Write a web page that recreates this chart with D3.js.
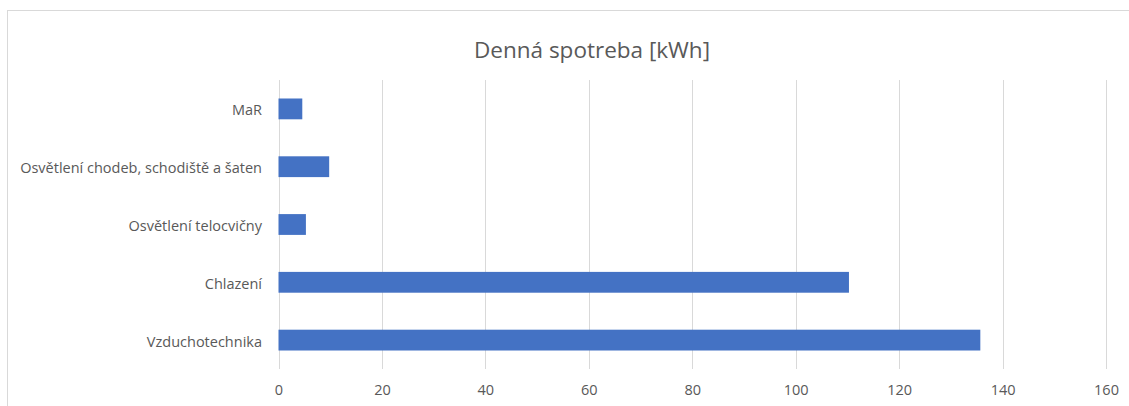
<!DOCTYPE html>
<html>
<head>
<meta charset="utf-8">
<script src="https://cdn.jsdelivr.net/npm/d3@7"></script>
<style>
  body { margin: 0; background: #fff; }
  svg text { font-family: "Open Sans", "Noto Sans", sans-serif; fill: #595959; }
</style>
</head>
<body>
<div id="d3-container"></div>
<script>
/* CONSTANTS AND GLOBALS */
const width = 1129,
  height = 406,
  margin = { top: 80, bottom: 37, left: 278.5, right: 23 };

// categories top to bottom, as in the chart
const categories = [
  "MaR",
  "Osvětlení chodeb, schodiště a šaten",
  "Osvětlení telocvičny",
  "Chlazení",
  "Vzduchotechnika"
];
const values = [4.6, 9.8, 5.3, 110.3, 135.7];
const xTicks = [0, 20, 40, 60, 80, 100, 120, 140, 160];
const title = "Denná spotreba [kWh]";

const data = categories.map((c, i) => ({ name: c, value: values[i] }));

const svg = d3
  .select("#d3-container")
  .append("svg")
  .attr("width", width)
  .attr("height", height);

// chart frame
svg
  .append("rect")
  .attr("x", 7.5)
  .attr("y", 10.5)
  .attr("width", 1176)
  .attr("height", 420)
  .attr("fill", "none")
  .attr("stroke", "#d9d9d9");

const xScale = d3
  .scaleLinear()
  .domain([0, 160])
  .range([margin.left, width - margin.right]);

const yScale = d3
  .scaleBand()
  .domain(categories)
  .range([margin.top, height - margin.bottom])
  .paddingInner(0.64)
  .paddingOuter(0.32);

// gridlines
svg
  .append("g")
  .selectAll("line")
  .data(xTicks)
  .join("line")
  .attr("x1", d => Math.round(xScale(d)) + 0.5)
  .attr("x2", d => Math.round(xScale(d)) + 0.5)
  .attr("y1", margin.top)
  .attr("y2", height - margin.bottom)
  .attr("stroke", "#d9d9d9")
  .attr("stroke-width", 1);

// x axis labels
const xAxis = d3.axisBottom(xScale).tickValues(xTicks).tickSize(0).tickPadding(16);
svg
  .append("g")
  .attr("class", "axis x-axis")
  .attr("transform", `translate(0, ${height - margin.bottom})`)
  .call(xAxis)
  .call(g => g.select(".domain").remove())
  .selectAll("text")
  .attr("font-family", "'Open Sans', sans-serif")
  .attr("font-size", 14.5)
  .attr("fill", "#595959");

// y axis labels
const yAxis = d3.axisLeft(yScale).tickSize(0).tickPadding(16.5);
svg
  .append("g")
  .attr("class", "axis y-axis")
  .attr("transform", `translate(${margin.left}, 0)`)
  .call(yAxis)
  .call(g => g.select(".domain").remove())
  .selectAll("text")
  .attr("font-family", "'Open Sans', sans-serif")
  .attr("font-size", 14.5)
  .attr("dy", "0.45em")
  .attr("fill", "#595959");

// bars
svg
  .append("g")
  .selectAll("rect")
  .data(data)
  .join("rect")
  .attr("x", xScale(0))
  .attr("y", d => yScale(d.name))
  .attr("width", d => xScale(d.value) - xScale(0))
  .attr("height", yScale.bandwidth())
  .attr("fill", "#4472c4");

// title
svg
  .append("text")
  .attr("x", 592)
  .attr("y", 58)
  .attr("text-anchor", "middle")
  .attr("font-size", 22.5)
  .text(title);
</script>
</body>
</html>
